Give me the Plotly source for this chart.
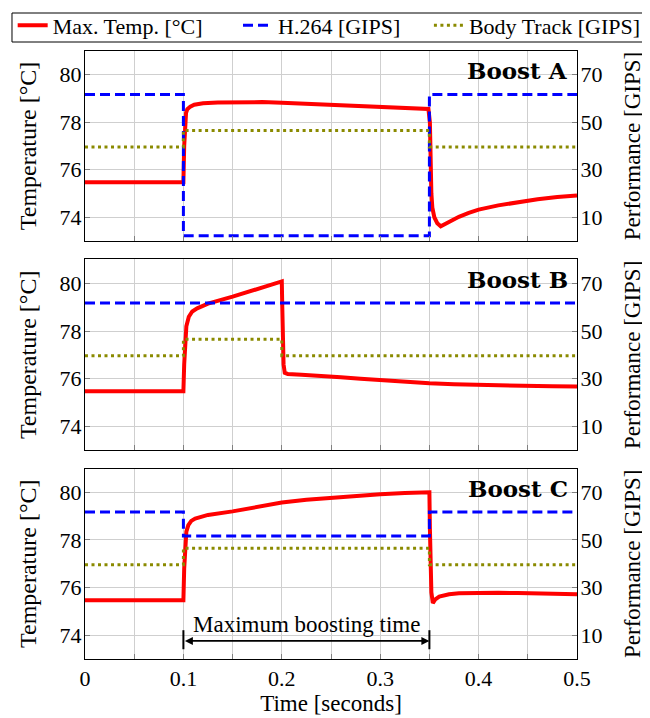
import plotly.graph_objects as go

# ---------------- data ----------------
boost_start = 0.1
boost_end = 0.35

# Boost A
tA = [0, 0.1, 0.1008, 0.1016, 0.1027, 0.104, 0.107, 0.111, 0.12, 0.135, 0.16, 0.18, 0.2,
      0.225, 0.25, 0.275, 0.3, 0.325, 0.349, 0.3505, 0.351, 0.352, 0.353, 0.355, 0.358,
      0.3615, 0.366, 0.372, 0.38, 0.39, 0.4, 0.42, 0.44, 0.46, 0.48, 0.5]
tempA = [75.47, 75.47, 77.0, 78.0, 78.4, 78.55, 78.66, 78.74, 78.8, 78.83, 78.85, 78.85, 78.82,
         78.78, 78.74, 78.69, 78.64, 78.6, 78.56, 78.0, 76.5, 75.0, 74.4, 74.0, 73.75,
         73.62, 73.72, 73.86, 74.02, 74.18, 74.32, 74.5, 74.64, 74.76, 74.85, 74.92]
# Boost B
tB = [0, 0.1, 0.1008, 0.1017, 0.103, 0.1055, 0.109, 0.114, 0.125, 0.15, 0.175, 0.2,
      0.2005, 0.201, 0.2018, 0.203, 0.206, 0.22, 0.24, 0.26, 0.28, 0.3, 0.325, 0.35,
      0.375, 0.4, 0.425, 0.45, 0.475, 0.5]
tempB = [75.47, 75.47, 76.6, 77.5, 78.2, 78.6, 78.82, 78.95, 79.15, 79.44, 79.75, 80.08,
         79.0, 77.5, 76.6, 76.25, 76.2, 76.17, 76.13, 76.06, 76.0, 75.94, 75.87, 75.81,
         75.77, 75.74, 75.72, 75.70, 75.68, 75.67]
# Boost C
tC = [0, 0.1, 0.1008, 0.1016, 0.103, 0.105, 0.108, 0.112, 0.125, 0.15, 0.175, 0.2, 0.225,
      0.25, 0.275, 0.3, 0.325, 0.35, 0.3505, 0.351, 0.352, 0.3535, 0.356, 0.36, 0.37,
      0.38, 0.4, 0.42, 0.44, 0.46, 0.48, 0.5]
tempC = [75.47, 75.47, 76.8, 77.8, 78.35, 78.62, 78.8, 78.9, 79.05, 79.2, 79.4, 79.57, 79.69,
         79.78, 79.86, 79.92, 79.97, 80.0, 78.5, 77.0, 75.8, 75.35, 75.5, 75.62, 75.72,
         75.76, 75.78, 75.78, 75.77, 75.75, 75.74, 75.72]

# performance step series [GIPS]
t_h264_A = [0, 0.1, 0.35, 0.5]
h264_A = [61.7, 2.2, 61.7, 61.7]
t_h264_B = [0, 0.5]
h264_B = [61.7, 61.7]
t_h264_C = [0, 0.1, 0.35, 0.5]
h264_C = [61.7, 51.7, 61.7, 61.7]

t_body_A = [0, 0.1, 0.35, 0.5]
body_A = [39.6, 46.5, 39.6, 39.6]
t_body_B = [0, 0.1, 0.2, 0.5]
body_B = [39.6, 46.5, 39.6, 39.6]
t_body_C = [0, 0.1, 0.35, 0.5]
body_C = [39.6, 46.5, 39.6, 39.6]

panel_titles = ["Boost A", "Boost B", "Boost C"]
series_names = ["Max. Temp. [°C]", "H.264 [GIPS]", "Body Track [GIPS]"]
temp_ticks = [74, 76, 78, 80]
perf_ticks = [10, 30, 50, 70]
x_ticks = [0, 0.1, 0.2, 0.3, 0.4, 0.5]

# ---------------- figure ----------------
RED = "#ff0000"
BLUE = "#0000ff"
OLIVE = "#8a8a00"
FONT = "Liberation Serif"

panels = [
    (tA, tempA, t_h264_A, h264_A, t_body_A, body_A),
    (tB, tempB, t_h264_B, h264_B, t_body_B, body_B),
    (tC, tempC, t_h264_C, h264_C, t_body_C, body_C),
]
domains = [[0.6875, 1.0], [0.3433, 0.6571], [0.0, 0.3133]]

fig = go.Figure()
for i, (t, temp, th, h, tb, b) in enumerate(panels):
    xa = "x" if i == 0 else f"x{i+1}"
    yl = "y" if i == 0 else f"y{2*i+1}"
    yr = f"y{2*i+2}"
    first = i == 0
    fig.add_trace(go.Scatter(x=t, y=temp, xaxis=xa, yaxis=yl, mode="lines",
                             line=dict(color=RED, width=4), name=series_names[0],
                             showlegend=first, legend="legend"))
    fig.add_trace(go.Scatter(x=th, y=h, xaxis=xa, yaxis=yr, mode="lines",
                             line=dict(color=BLUE, width=3, dash="10px,5px", shape="hv"),
                             name=series_names[1], showlegend=first, legend="legend2"))
    fig.add_trace(go.Scatter(x=tb, y=b, xaxis=xa, yaxis=yr, mode="lines",
                             line=dict(color=OLIVE, width=3, dash="3px,3.5px", shape="hv"),
                             name=series_names[2], showlegend=first, legend="legend3"))

grid_col = "#cfcfcf"
tick_col = "#808080"
leg_y = 1.042


def leg(x):
    return dict(orientation="h", x=x, xanchor="left", y=leg_y, yanchor="middle",
                bgcolor="rgba(0,0,0,0)", borderwidth=0,
                font=dict(family=FONT, size=22), itemwidth=30)


layout = dict(
    width=642, height=710,
    margin=dict(l=77, r=73, t=43, b=59, autoexpand=False),
    paper_bgcolor="white", plot_bgcolor="white",
    font=dict(family=FONT, size=22, color="black"),
    legend=leg(-0.147), legend2=leg(0.311), legend3=leg(0.699),
)
for i in range(3):
    xk = "xaxis" if i == 0 else f"xaxis{i+1}"
    ylk = "yaxis" if i == 0 else f"yaxis{2*i+1}"
    yrk = f"yaxis{2*i+2}"
    yl_name = "y" if i == 0 else f"y{2*i+1}"
    x_name = "x" if i == 0 else f"x{i+1}"
    layout[xk] = dict(
        domain=[0, 1], anchor=yl_name, range=[0, 0.5], automargin=False,
        tickvals=x_ticks, ticktext=[f"{v:g}" for v in x_ticks],
        showticklabels=(i == 2), ticks="inside", ticklen=5, tickcolor=tick_col,
        showgrid=True, gridcolor=grid_col, gridwidth=1,
        minor=dict(dtick=0.05, showgrid=True, gridcolor=grid_col, ticks="inside",
                   ticklen=5, tickcolor=tick_col),
        showline=True, linecolor="black", linewidth=1, mirror=True,
        zeroline=False, ticklabelstandoff=0,
        title=dict(text="Time [seconds]", standoff=2, font=dict(size=23)) if i == 2 else None,
    )
    layout[ylk] = dict(
        domain=domains[i], anchor=x_name, range=[73, 81], tickvals=temp_ticks,
        automargin=False,
        ticks="inside", ticklen=5, tickcolor=tick_col,
        showgrid=True, gridcolor=grid_col, gridwidth=1,
        showline=True, linecolor="black", linewidth=1, mirror=True, zeroline=False,
        ticklabelstandoff=-2,
        title=dict(text="Temperature [°C]", standoff=16, font=dict(size=24)),
    )
    layout[yrk] = dict(
        domain=domains[i], anchor=x_name, overlaying=yl_name, side="right",
        range=[0, 80], tickvals=perf_ticks, automargin=False,
        ticks="inside", ticklen=5, tickcolor=tick_col, showgrid=False,
        showline=True, linecolor="black", linewidth=1, zeroline=False,
        ticklabelstandoff=-2,
        title=dict(text="Performance [GIPS]", standoff=22, font=dict(size=23)),
    )
fig.update_layout(**layout)

# legend frame
fig.add_shape(type="rect", xref="paper", yref="paper", x0=-0.1484, x1=1.1382,
              y0=1.0148, y1=1.0625, line=dict(color="black", width=1), layer="above")

for i, title in enumerate(panel_titles):
    x_name = "x" if i == 0 else f"x{i+1}"
    yl_name = "y" if i == 0 else f"y{2*i+1}"
    fig.add_annotation(text=f"<b>{title}</b>", xref=f"{x_name} domain", yref=f"{yl_name} domain",
                       x=0.985, y=0.895, xanchor="right", yanchor="middle", showarrow=False,
                       font=dict(family="DejaVu Serif", size=23, color="black"))

# maximum boosting time arrow (panel C)
arrow_y = 73.76
fig.add_annotation(x=boost_end, y=arrow_y, ax=boost_start, ay=arrow_y, xref="x3", yref="y5",
                   axref="x3", ayref="y5", showarrow=True, arrowside="end+start",
                   arrowhead=2, arrowsize=1, arrowwidth=1.6, arrowcolor="black", text="")
fig.add_annotation(x=(boost_start + boost_end) / 2, y=arrow_y, xref="x3", yref="y5",
                   text="Maximum boosting time", showarrow=False, yanchor="bottom", yshift=2,
                   font=dict(family=FONT, size=23, color="black"))
for xb in (boost_start, boost_end):
    fig.add_shape(type="line", x0=xb, x1=xb, y0=73.41, y1=74.21, xref="x3", yref="y5",
                  line=dict(color="black", width=2))

fig.write_html("out.html")
